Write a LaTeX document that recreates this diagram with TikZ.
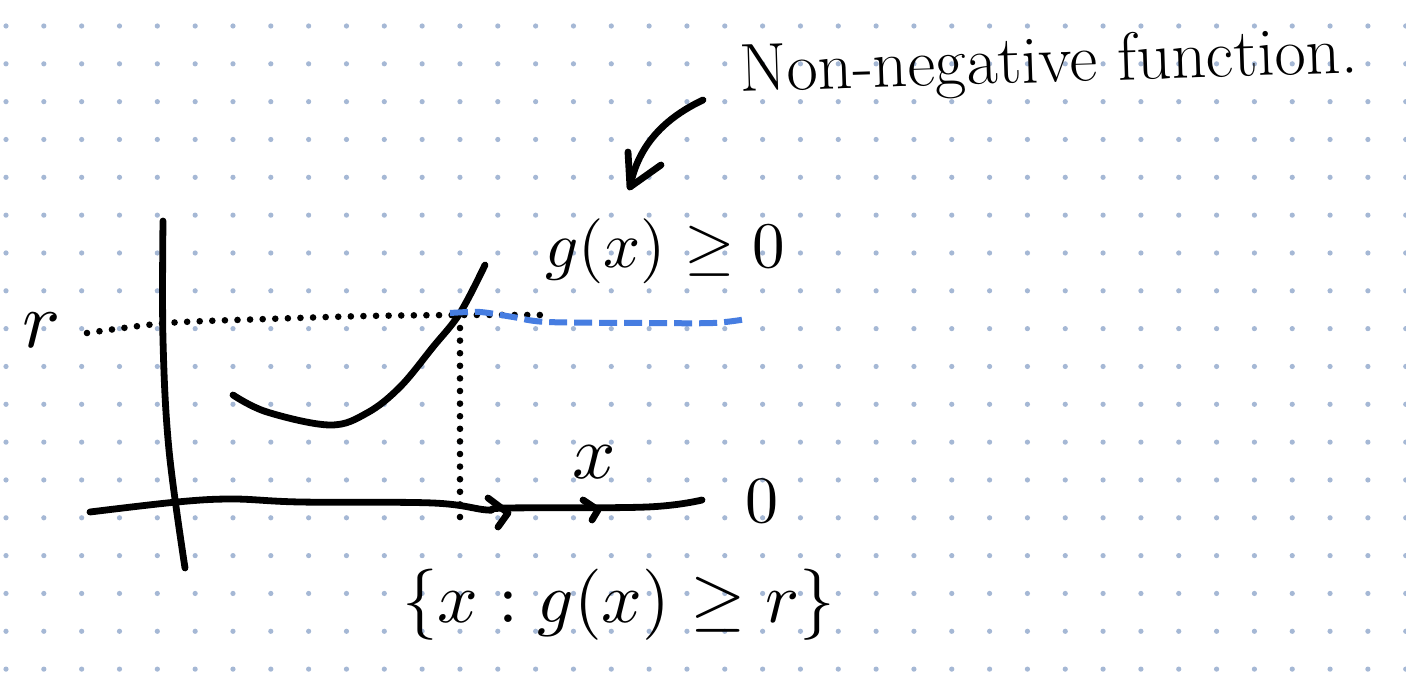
\documentclass[tikz,border=0pt]{standalone}
\usepackage{amsmath}
\definecolor{griddot}{RGB}{165,184,213}
\definecolor{sketchblue}{RGB}{70,125,225}
\tikzset{
  stroke/.style={line width=3.4pt, line cap=round, line join=round, black},
  dotline/.style={line width=3.3pt, line cap=round, dash pattern=on 0pt off 6.3pt, black},
  bluedash/.style={line width=3pt, sketchblue, dash pattern=on 9pt off 3.5pt},
  lbl/.style={inner sep=0pt, outer sep=0pt, anchor=base west, font=\fontsize{10}{12}\selectfont}
}
\begin{document}
\begin{tikzpicture}[x=0.5pt,y=-0.5pt]
\useasboundingbox (0,0) rectangle (1406,678);
\fill[white] (0,0) rectangle (1406,678);
% dot grid
\foreach \i in {0,...,37}{
  \foreach \j in {0,...,17}{
    \fill[griddot] ({6+37.83*\i},{26+37.83*\j}) circle (1.3pt);
  }
}
% axes
\draw[stroke] plot[smooth, tension=0.6] coordinates {(163,221) (163,340) (169,450) (185,568)};
\draw[stroke] plot[smooth, tension=0.6] coordinates {(90,512) (177,502) (233,499) (300,502) (433,503) (487,510) (507,508) (647,507) (702,500)};
\draw[stroke] (488,498) -- (508,513) -- (498,527);
\draw[stroke] (583,500) -- (598,510) -- (592,520);
% function curve
\draw[stroke] plot[smooth, tension=0.6] coordinates {(233,395) (267,412) (330,425) (367,413) (400,387) (433,347) (460,313) (485,265)};
% dotted guides
\draw[dotline] plot[smooth] coordinates {(87,333) (167,323) (267,319) (367,316) (460,315) (540,315)};
\draw[dotline] (460,328) -- (460,518);
% blue dashed
\draw[bluedash] plot[smooth] coordinates {(450,313) (480,312) (513,317) (547,322) (647,323) (713,323) (747,319)};
% annotation arrow
\coordinate (astart) at (703,100);
\coordinate (atip) at (630,187);
\draw[stroke] (astart) .. controls (665,118) and (638,145) .. (atip);
\draw[stroke] (661,165) -- (atip) -- (628,152);
% labels
\node[lbl, rotate=1.8, font=\fontsize{34}{40}\selectfont] (title) at (740,92) {Non-negative function.};
\node[lbl, scale=3.25] (gx) at (545,268) {$g(x)\geq 0$};
\node[lbl, scale=4.0] (rl) at (22,348) {$r$};
\node[lbl, scale=3.8] (xl) at (572,478) {$x$};
\node[lbl, scale=3.3] (zero) at (745,522) {$0$};
\node[lbl, scale=3.56] (set) at (402,622) {$\{x : g(x)\geq r\}$};
\end{tikzpicture}
\end{document}
